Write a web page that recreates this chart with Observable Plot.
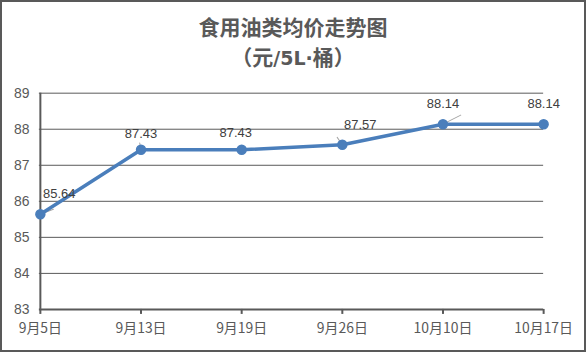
<!DOCTYPE html>
<html><head><meta charset="utf-8">
<script src="https://cdn.jsdelivr.net/npm/d3@7"></script>
<script src="https://cdn.jsdelivr.net/npm/@observablehq/plot@0.6"></script>
<style>
html,body{margin:0;padding:0;background:#fff;}
#wrap{position:relative;width:586px;height:352px;box-sizing:border-box;border:2px solid #595959;overflow:hidden;font-family:"Noto Sans CJK SC",sans-serif;}
#title{position:absolute;left:0;top:9px;width:582px;text-align:center;color:#595959;font-size:21px;line-height:30px;font-weight:bold;}
#title .lat{font-family:"DejaVu Sans",sans-serif;font-size:19px;}
#chart{position:absolute;left:-2px;top:-2px;}
</style></head>
<body><div id="wrap"><div id="title">食用油类均价走势图<br>（元<span class="lat">/5L·</span>桶）</div><div id="chart"></div></div>
<script>
const dates = ["9月5日","9月13日","9月19日","9月26日","10月10日","10月17日"];
const prices = [85.64, 87.43, 87.43, 87.57, 88.14, 88.14];
const yTicks = [83, 84, 85, 86, 87, 88, 89];
const labelDx = [19, 0, -6, 18, 0];
const labelDy = [-21, -16, -17, -20, -20];
const leaderIndex = [0, 1, 3, 4];
const leaderAngle = [69, -11, -35, 63];
const leaderLength = [14, 7, 9, 20];

const data = dates.map((d, i) => ({date: d, price: prices[i], i}));
const font = "Noto Sans CJK SC, sans-serif";
const labelFont = "Liberation Sans, Noto Sans, sans-serif";

const labelMarks = data.map((d, i) => Plot.text([d], {
  x: "date", y: "price", text: v => v.price.toFixed(2),
  dx: i < labelDx.length ? labelDx[i] : 0,
  dy: i < labelDy.length ? labelDy[i] : -20,
  fill: "#404040", fontSize: 13, fontFamily: labelFont
}));

const lineShape = {draw(context, l) { context.moveTo(0, 0); context.lineTo(0, -l); }};
const leaderMarks = leaderIndex.map((k, j) => Plot.vector([data[k]], {
  x: "date", y: "price", rotate: leaderAngle[j], length: leaderLength[j],
  anchor: "start", shape: lineShape, stroke: "#a6a6a6", strokeWidth: 1
}));

const chart = Plot.plot({
  width: 586, height: 352,
  marginTop: 93, marginBottom: 42, marginLeft: 39, marginRight: 41,
  style: {background: "transparent", fontFamily: font},
  x: {type: "point", domain: dates, padding: 0, label: null},
  y: {domain: [83, 89], ticks: yTicks, label: null},
  marks: [
    Plot.gridY(yTicks.slice(1), {stroke: "#595959", strokeOpacity: 1, strokeWidth: 1}),
    Plot.ruleX([dates[0]], {stroke: "#595959", strokeWidth: 2}),
    Plot.ruleY([83], {stroke: "#595959", strokeWidth: 2}),
    Plot.axisY({ticks: yTicks, tickSize: 0, tickPadding: 10, fontSize: 14, fill: "#595959", fontFamily: labelFont, tickFormat: d => String(d)}),
    Plot.axisX({tickSize: 5, tickPadding: 9, stroke: "#595959", strokeWidth: 2, strokeOpacity: 1, fontSize: 14, fill: "#595959"}),
    ...leaderMarks,
    Plot.line(data, {x: "date", y: "price", stroke: "#4a7ebb", strokeWidth: 3.5}),
    Plot.dot(data, {x: "date", y: "price", r: 4.5, fill: "#4a7ebb", stroke: "#4a7ebb"}),
    ...labelMarks
  ]
});
document.getElementById("chart").appendChild(chart);
</script></body></html>
